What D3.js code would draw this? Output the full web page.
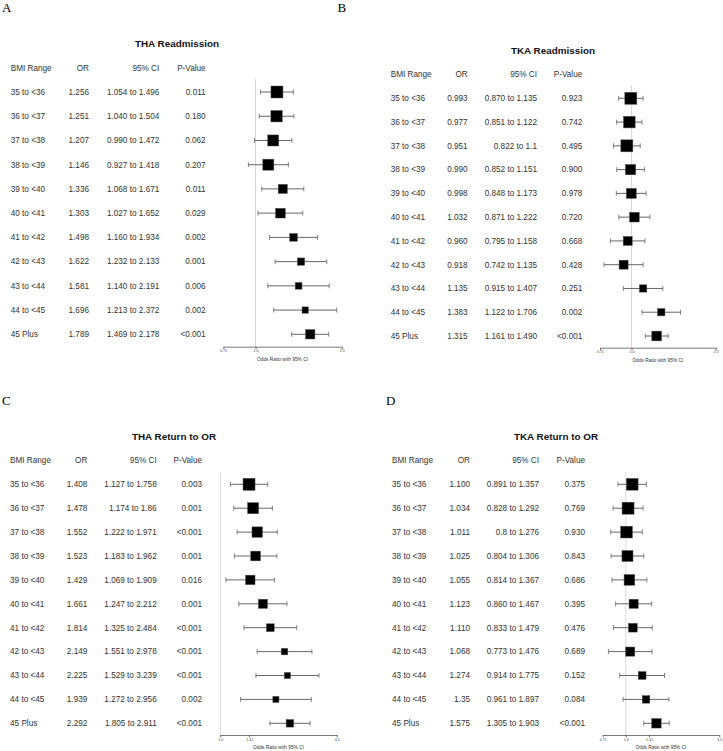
<!DOCTYPE html>
<html>
<head>
<meta charset="utf-8">
<script src="https://cdn.jsdelivr.net/npm/d3@7/dist/d3.min.js"></script>
<style>
  html, body { margin: 0; padding: 0; background: #fff; }
  svg { display: block; }
  text { font-family: "Liberation Sans", Arial, sans-serif; }
</style>
</head>
<body>
<svg id="chart" width="723" height="751"></svg>
<script>
// ---------------- DATA ----------------
const bmiRanges = ["35 to <36","36 to <37","37 to <38","38 to <39","39 to <40","40 to <41","41 to <42","42 to <43","43 to <44","44 to <45","45 Plus"];

// A: THA Readmission
const thaReadmOR = ["1.256","1.251","1.207","1.146","1.336","1.303","1.498","1.622","1.581","1.696","1.789"];
const thaReadmLo = ["1.054","1.040","0.990","0.927","1.068","1.027","1.160","1.232","1.140","1.213","1.469"];
const thaReadmHi = ["1.496","1.504","1.472","1.418","1.671","1.652","1.934","2.133","2.191","2.372","2.178"];
const thaReadmP  = ["0.011","0.180","0.062","0.207","0.011","0.029","0.002","0.001","0.006","0.002","<0.001"];
const thaReadmWeight = [1.00,0.95,0.92,0.92,0.76,0.81,0.64,0.61,0.56,0.53,0.78];

// B: TKA Readmission
const tkaReadmOR = ["0.993","0.977","0.951","0.990","0.998","1.032","0.960","0.918","1.135","1.383","1.315"];
const tkaReadmLo = ["0.870","0.851","0.822","0.852","0.848","0.871","0.795","0.742","0.915","1.122","1.161"];
const tkaReadmHi = ["1.135","1.122","1.1","1.151","1.173","1.222","1.158","1.135","1.407","1.706","1.490"];
const tkaReadmP  = ["0.923","0.742","0.495","0.900","0.978","0.720","0.668","0.428","0.251","0.002","<0.001"];
const tkaReadmWeight = [1.00,0.97,1.00,0.86,0.83,0.81,0.75,0.75,0.61,0.61,0.81];

// C: THA Return to OR
const thaRetOR = ["1.408","1.478","1.552","1.523","1.429","1.661","1.814","2.149","2.225","1.939","2.292"];
const thaRetLo = ["1.127","1.174","1.222","1.183","1.069","1.247","1.325","1.551","1.529","1.272","1.805"];
const thaRetHi = ["1.758","1.86","1.971","1.962","1.909","2.212","2.484","2.978","3.239","2.956","2.911"];
const thaRetP  = ["0.003","0.001","<0.001","0.001","0.016","0.001","<0.001","<0.001","<0.001","0.002","<0.001"];
const thaRetWeight = [1.00,0.92,0.87,0.81,0.79,0.76,0.65,0.54,0.51,0.51,0.63];

// D: TKA Return to OR
const tkaRetOR = ["1.100","1.034","1.011","1.025","1.055","1.123","1.110","1.068","1.274","1.35","1.575"];
const tkaRetLo = ["0.891","0.828","0.8","0.804","0.814","0.860","0.833","0.773","0.914","0.961","1.305"];
const tkaRetHi = ["1.357","1.292","1.276","1.306","1.367","1.467","1.479","1.476","1.775","1.897","1.903"];
const tkaRetP  = ["0.375","0.769","0.930","0.843","0.686","0.395","0.476","0.689","0.152","0.084","<0.001"];
const tkaRetWeight = [0.98,1.00,0.98,0.92,0.89,0.76,0.73,0.76,0.65,0.63,0.79];

// Axis domains and tick labels
const readmDomain = [0.71, 2.5];
const readmTicks = ["0.71","1.0","2.5"];
const thaRetDomain = [1.0, 4.0];
const thaRetTicks = ["1.0","1.41","4.0"];
const tkaRetDomain = [0.71, 4.0];
const tkaRetTicks = ["0.71","1.0","1.41","4.0"];

const headers = ["BMI Range","OR","95% CI","P-Value"];
const axisTitle = "Odds Ratio with 95% CI";

// ---------------- LAYOUT ----------------
const panels = [
  { letter:"A", letterX:2, letterY:12, title:"THA Readmission", titleX:177, titleY:47,
    headerY:67.7, rowTop:92, rowBot:334.3, bmiX:10.7, orX:89, ciX:159.3, pX:205.7,
    axX0:223.3, axX1:341.7, axY:346.7, refTop:79,
    or:thaReadmOR, lo:thaReadmLo, hi:thaReadmHi, p:thaReadmP, w:thaReadmWeight,
    domain:readmDomain, ticks:readmTicks },
  { letter:"B", letterX:337.5, letterY:12, title:"TKA Readmission", titleX:553, titleY:54,
    headerY:74, rowTop:98.3, rowBot:336, bmiX:390.7, orX:467.7, ciX:537, pX:582.3,
    axX0:600, axX1:715.7, axY:347.7, refTop:85,
    or:tkaReadmOR, lo:tkaReadmLo, hi:tkaReadmHi, p:tkaReadmP, w:tkaReadmWeight,
    domain:readmDomain, ticks:readmTicks },
  { letter:"C", letterX:2, letterY:405, title:"THA Return to OR", titleX:174, titleY:440,
    headerY:460, rowTop:484.3, rowBot:723.3, bmiX:10, orX:87.3, ciX:156.7, pX:202,
    axX0:220.3, axX1:336.7, axY:735, refTop:471.7,
    or:thaRetOR, lo:thaRetLo, hi:thaRetHi, p:thaRetP, w:thaRetWeight,
    domain:thaRetDomain, ticks:thaRetTicks },
  { letter:"D", letterX:386, letterY:405, title:"TKA Return to OR", titleX:556, titleY:440,
    headerY:460, rowTop:484.3, rowBot:723.3, bmiX:392, orX:470, ciX:539, pX:585,
    axX0:602.7, axX1:719.3, axY:735, refTop:471.7,
    or:tkaRetOR, lo:tkaRetLo, hi:tkaRetHi, p:tkaRetP, w:tkaRetWeight,
    domain:tkaRetDomain, ticks:tkaRetTicks }
];

const svg = d3.select("#chart");
const textColor = "#333";
const fs = 8.2;
const boxScale = d3.scaleLinear().domain([0, 1]).range([0, 12]);

panels.forEach(P => {
  const g = svg.append("g");
  const rows = bmiRanges.map((b, i) => ({
    bmi: b, orT: P.or[i], lo: +P.lo[i], hi: +P.hi[i], or: +P.or[i],
    ci: P.lo[i] + " to " + P.hi[i], p: P.p[i], w: P.w[i]
  }));

  const y = d3.scalePoint().domain(bmiRanges).range([P.rowTop, P.rowBot]);
  const x = d3.scaleLog().domain(P.domain).range([P.axX0, P.axX1]);

  // panel letter
  g.append("text").attr("x", P.letterX).attr("y", P.letterY)
    .attr("font-family", "'Liberation Serif', 'Times New Roman', serif")
    .style("font-family", "'Liberation Serif', 'Times New Roman', serif")
    .attr("font-size", 13).attr("fill", "#000").text(P.letter);

  // title
  g.append("text").attr("x", P.titleX).attr("y", P.titleY)
    .attr("text-anchor", "middle").attr("font-weight", "bold")
    .attr("font-size", 9.9).attr("fill", "#111").text(P.title);

  // headers
  const cols = [
    { x: P.bmiX, anchor: "start" },
    { x: P.orX, anchor: "end" },
    { x: P.ciX, anchor: "end" },
    { x: P.pX, anchor: "end" }
  ];
  headers.forEach((h, i) => {
    g.append("text").attr("x", cols[i].x).attr("y", P.headerY).attr("dy", "0.35em")
      .attr("text-anchor", cols[i].anchor).attr("font-size", fs)
      .attr("fill", textColor).text(h);
  });

  // table rows
  const colKeys = ["bmi", "orT", "ci", "p"];
  colKeys.forEach((k, i) => {
    g.selectAll(null).data(rows).join("text")
      .attr("x", cols[i].x).attr("y", d => y(d.bmi)).attr("dy", "0.35em")
      .attr("text-anchor", cols[i].anchor).attr("font-size", fs)
      .attr("fill", textColor).text(d => d[k]);
  });

  // reference line at OR = 1
  g.append("line").attr("x1", x(1)).attr("x2", x(1))
    .attr("y1", P.refTop).attr("y2", P.axY)
    .attr("stroke", "#d9d9d9").attr("stroke-width", 1);

  // CI whiskers
  const ci = g.selectAll(null).data(rows).join("g");
  ci.append("line").attr("x1", d => x(d.lo)).attr("x2", d => x(d.hi))
    .attr("y1", d => y(d.bmi)).attr("y2", d => y(d.bmi))
    .attr("stroke", "#666").attr("stroke-width", 1);
  ci.append("line").attr("x1", d => x(d.lo)).attr("x2", d => x(d.lo))
    .attr("y1", d => y(d.bmi) - 2.5).attr("y2", d => y(d.bmi) + 2.5)
    .attr("stroke", "#666").attr("stroke-width", 0.8);
  ci.append("line").attr("x1", d => x(d.hi)).attr("x2", d => x(d.hi))
    .attr("y1", d => y(d.bmi) - 2.5).attr("y2", d => y(d.bmi) + 2.5)
    .attr("stroke", "#666").attr("stroke-width", 0.8);

  // boxes
  g.selectAll(null).data(rows).join("rect")
    .attr("x", d => x(d.or) - boxScale(d.w) / 2)
    .attr("y", d => y(d.bmi) - boxScale(d.w) / 2)
    .attr("width", d => boxScale(d.w)).attr("height", d => boxScale(d.w))
    .attr("fill", "#000").attr("stroke", "#555").attr("stroke-width", 0.5);

  // axis
  const tickVals = P.ticks.map(t => +t);
  const axis = d3.axisBottom(x).tickValues(tickVals)
    .tickFormat((d, i) => P.ticks[i]).tickSize(2.5).tickSizeOuter(0);
  const ag = g.append("g").attr("transform", `translate(0,${P.axY})`).call(axis);
  ag.select(".domain").attr("stroke", "#555").attr("stroke-width", 0.8);
  ag.selectAll(".tick line").attr("stroke", "#555").attr("stroke-width", 0.8);
  ag.selectAll(".tick text").attr("font-size", 3.6).attr("fill", "#444")
    .attr("dy", "0.5em").attr("y", 4);

  g.append("text").attr("x", (P.axX0 + P.axX1) / 2).attr("y", P.axY + 12.5)
    .attr("dy", "0.35em").attr("text-anchor", "middle")
    .attr("font-size", 4.8).attr("fill", "#333").text(axisTitle);
});
</script>
</body>
</html>
